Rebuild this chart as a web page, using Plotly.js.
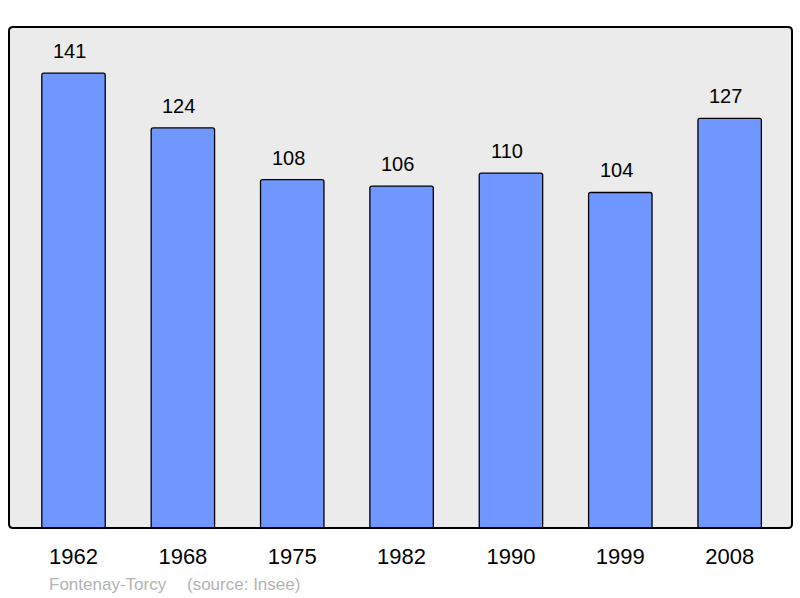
<!DOCTYPE html>
<html><head><meta charset="utf-8">
<script src="https://cdn.plot.ly/plotly-3.0.1.min.js"></script>
<style>body{margin:0;background:#fff}#c{width:800px;height:598px}</style>
</head><body><div id="c"></div>
<script>
const years = ["1962","1968","1975","1982","1990","1999","2008"];
const population = [141,124,108,106,110,104,127];
const footerLeft = "Fontenay-Torcy";
const footerRight = "(source: Insee)";

const L=9, R=8, T=27, B=70, W=800, H=598;
const pw = W-L-R, ph = H-T-B;
const rx = 4/pw, ry = 4/ph;
const boxPath = `M ${rx},0 L ${1-rx},0 Q 1,0 1,${ry} L 1,${1-ry} Q 1,1 ${1-rx},1 L ${rx},1 Q 0,1 0,${1-ry} L 0,${ry} Q 0,0 ${rx},0 Z`;
const FONT = 'Liberation Sans, Arial, sans-serif';

const annotations = years.map((y,i)=>({
  x:i, y:population[i], xref:'x', yref:'y', text:String(population[i]),
  showarrow:false, yanchor:'bottom', yshift:9, xshift:-4,
  font:{family:FONT, size:20, color:'#000'}
}));
annotations.push({xref:'paper', yref:'paper', x:(47-L)/pw, y:-(584-T-ph)/ph, xanchor:'left', yanchor:'middle',
  text:footerLeft, showarrow:false, font:{family:FONT, size:17, color:'#b3b3b3'}});
annotations.push({xref:'paper', yref:'paper', x:(185-L)/pw, y:-(584-T-ph)/ph, xanchor:'left', yanchor:'middle',
  text:footerRight, showarrow:false, font:{family:FONT, size:17, color:'#b3b3b3'}});

Plotly.newPlot('c', [{
  type:'bar', x:years, y:population, width:0.58,
  marker:{color:'#7096ff', line:{color:'#000', width:1.3}, cornerradius:2},
  hoverinfo:'none'
}], {
  width:W, height:H, margin:{l:L, r:R, t:T, b:B, pad:0},
  paper_bgcolor:'#fff', plot_bgcolor:'#ebebeb', showlegend:false,
  xaxis:{type:'category', range:[-0.59,6.57], showgrid:false, zeroline:false, showline:false,
    ticks:'outside', ticklen:9, tickcolor:'rgba(0,0,0,0)',
    tickfont:{family:FONT, size:22, color:'#000'}},
  yaxis:{range:[0,155.3], showgrid:false, zeroline:false, showline:false, showticklabels:false, ticks:''},
  shapes:[{type:'path', xref:'paper', yref:'paper', path:boxPath, line:{color:'#000', width:2}, fillcolor:'rgba(0,0,0,0)', layer:'above'}],
  annotations:annotations
}, {staticPlot:true});
</script></body></html>
